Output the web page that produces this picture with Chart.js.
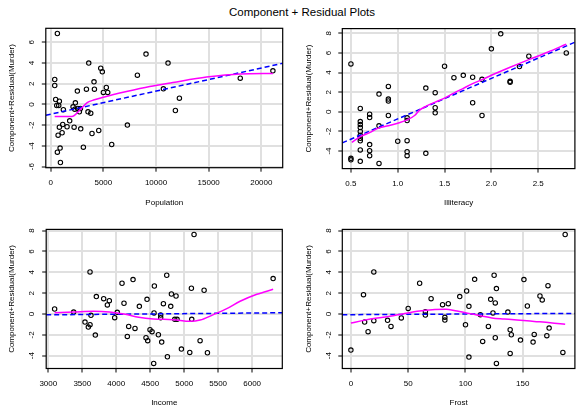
<!DOCTYPE html>
<html>
<head>
<meta charset="utf-8">
<script src="https://cdn.jsdelivr.net/npm/chart.js@4.4.0/dist/chart.umd.min.js"></script>
<style>
  html, body { margin: 0; padding: 0; background: #fff; overflow: hidden; }
  #fig { position: relative; width: 577px; height: 407px; overflow: hidden; font-family: "Liberation Sans", Arial, sans-serif; }
  #title { position: absolute; left: 0; top: 6px; width: 604px; text-align: center; font-size: 11.5px; line-height: 12px; color: #000; }
  .panel { position: absolute; }
</style>
</head>
<body>
<div id="fig">
  <div id="title">Component + Residual Plots</div>
  <div class="panel" style="left:0;top:22px"><canvas id="c1" width="288" height="190"></canvas></div>
  <div class="panel" style="left:288px;top:22px"><canvas id="c2" width="292" height="190"></canvas></div>
  <div class="panel" style="left:0;top:215px"><canvas id="c3" width="288" height="194"></canvas></div>
  <div class="panel" style="left:288px;top:215px"><canvas id="c4" width="292" height="194"></canvas></div>
</div>
<script>
// Population panel
const popX = [630, 380, 380, 470, 820, 570, 760, 1200, 820, 1140, 1550, 1800, 1080, 700, 890, 630, 920,
  2120, 2340, 2280, 2560, 2720, 2820, 2530, 2220, 2850, 3100, 3390, 3610, 3540, 3800, 3920, 4110, 4150,
  4560, 4750, 4900, 5000, 5280, 5410, 5790, 7280, 8230, 9050, 10700, 11140, 11840, 12220, 18000, 21100]
const popY = [6.85, 2.41, 1.83, 0.48, 0.32, -0.10, -0.10, -0.51, -2.19, -1.93, -2.15, -1.58, -2.73, -2.96, -4.21, -4.60, -5.60,
  -0.23, 0.16, -0.45, -0.39, -0.71, -0.39, 1.29, -2.19, -2.35, -4.12, 1.48, 3.99, -0.71, -0.84, -2.80, 2.19, 1.48,
  -2.51, 3.50, 3.15, 1.16, 1.64, 1.16, -3.86, -1.99, 2.83, 4.86, 1.51, 3.99, -0.58, 0.61, 2.54, 3.25]
const popFitX = [-468, 22031]
const popFitY = [-1.04, 3.97]
const popSmoothX = [376, 2000, 2800, 3500, 4150, 5000, 7200, 9400, 11600, 14800, 18000, 21100]
const popSmoothY = [-1.16, -1.16, -0.5, 0.2, 0.45, 0.7, 1.25, 1.74, 2.12, 2.64, 2.95, 3.0]
const popTicks = [0, 5000, 10000, 15000, 20000]
const popYTicks = [-6, -4, -2, 0, 2, 4, 6]

// Illiteracy panel
const illX = [0.5, 0.5, 0.5, 0.6, 0.6, 0.6, 0.6, 0.6, 0.6, 0.6, 0.6, 0.6, 0.6,
  0.7, 0.7, 0.7, 0.7, 0.7, 0.8, 0.8, 0.8, 0.9, 0.9, 0.9, 0.9, 1.0,
  1.1, 1.1, 1.1, 1.1, 1.1, 1.3, 1.3, 1.4, 1.4, 1.4, 1.5, 1.6, 1.7, 1.8, 1.8,
  1.9, 1.9, 2.0, 2.1, 2.2, 2.2, 2.3, 2.4, 2.8]
const illY = [4.88, -4.74, -4.90, 0.34, -1.0, -1.3, -1.6, -2.0, -2.4, -2.7, -2.95, -3.89, -5.05,
  -0.24, -0.58, -3.34, -3.96, -4.47, 1.81, -1.43, -5.26, 2.59, 1.30, 1.10, -0.38, -3.0,
  -0.61, -0.89, -2.94, -4.06, -4.47, 2.42, -4.23, 1.95, 0.41, -0.10, 4.64, 3.48, 3.72, 3.52, 0.92,
  3.31, -0.38, 6.42, 7.95, 3.11, 3.0, 4.61, 5.67, 6.0]
const illFitX = [0.408, 2.892]
const illFitY = [-3.17, 7.09]
const illSmoothX = [0.51, 0.6, 0.7, 0.8, 0.9, 1.0, 1.1, 1.18, 1.23, 1.3, 1.4, 1.5, 1.6, 1.7, 1.8, 1.9, 2.0, 2.2, 2.4, 2.6, 2.8]
const illSmoothY = [-3.11, -2.53, -2.12, -1.64, -1.43, -1.16, -0.82, -0.38, 0.14, 0.55, 0.99, 1.4, 1.91, 2.39, 2.87, 3.28, 3.72, 4.54, 5.32, 6.07, 6.89]
const illTicks = [0.5, 1.0, 1.5, 2.0, 2.5]
const illYTicks = [-4, -2, 0, 2, 4, 6, 8]

// Income panel
const incX = [3093, 3373, 3540, 3614, 3628, 3614, 3589, 3692, 3707, 3815, 3869, 3898, 3977, 4015, 4085,
  4114, 4183, 4163, 4247, 4276, 4340, 4453, 4438, 4463, 4497, 4527, 4561, 4556, 4551, 4620, 4654, 4654,
  4669, 4694, 4743, 4753, 4802, 4812, 4880, 4861, 4895, 4959, 5082, 5106, 5111, 5145, 5234, 5293, 5342, 6309]
const incY = [0.48, 0.19, -0.77, 4.04, -0.13, -1.03, -1.25, -2.02, 1.67, 1.47, 0.87, 1.28, -0.35, 0.16, 2.95,
  1.03, -1.19, -2.15, 3.30, -1.38, 0.74, 1.41, -2.28, -2.56, -1.51, -1.70, 2.69, 0.10, -4.74, -1.99, -0.10, -0.35,
  -2.69, 0.99, 3.72, -4.10, 0.74, 1.92, 1.73, -0.51, -0.51, -3.37, -3.69, 2.47, -0.51, 7.63, -2.56, 2.28, -3.72, 3.40]
const incFitX = [2969, 6444]
const incFitY = [-0.08, 0.12]
const incSmoothX = [3093, 3373, 3662, 3900, 4134, 4330, 4546, 4840, 5087, 5234, 5430, 5627, 5823, 6069, 6309]
const incSmoothY = [0.13, 0.19, 0.26, 0.19, -0.03, -0.32, -0.48, -0.54, -0.7, -0.58, -0.06, 0.51, 1.22, 1.89, 2.37]
const incTicks = [3000, 3500, 4000, 4500, 5000, 5500, 6000]
const incYTicks = [-4, -2, 0, 2, 4, 6, 8]

// Frost panel
const frostX = [0, 11, 12, 15, 20, 20, 32, 35, 44, 50, 60, 65, 65, 70, 80, 82, 82, 85, 95, 100,
  101, 103, 103, 108, 113, 115, 120, 122, 124, 125, 126, 126, 127, 127, 137, 139, 140, 139, 148, 151,
  154, 159, 160, 165, 167, 171, 172, 173, 185, 187]
const frostY = [-3.46, 1.86, -0.77, -1.70, 4.04, -0.64, -0.61, -1.19, -0.38, 0.54, 2.95, 0.22, -0.10, 1.47, 0.90, -0.32, -0.58, 0.99, 1.67, -1.03,
  2.21, 0.74, -4.13, 3.33, -0.06, -2.63, -1.19, 1.41, 0.10, 3.72, 1.06, -2.28, 2.44, -4.74, 0.19, -1.51, -1.99, -3.78, -2.50, 3.30,
  0.77, -2.69, -1.96, 1.73, 1.35, -2.08, 2.72, -1.35, -3.69, 7.63]
const frostFitX = [-7.5, 195.5]
const frostFitY = [-0.07, 0.06]
const frostSmoothX = [0, 11, 23, 34, 46, 60, 71, 83, 91, 103, 114, 123, 134, 145, 160, 174, 187]
const frostSmoothY = [-0.87, -0.61, -0.38, -0.22, 0.03, 0.29, 0.42, 0.45, 0.32, 0.06, -0.19, -0.38, -0.48, -0.58, -0.71, -0.83, -0.99]
const frostTicks = [0, 50, 100, 150]
const frostYTicks = [-4, -2, 0, 2, 4, 6, 8]

const FONT = '"Liberation Sans", Arial, sans-serif'
const pts = (xs, ys) => xs.map((x, i) => ({ x: x, y: ys[i] }))

// box around the plot + y tick labels turned like R does
const framePlugin = {
  id: "frame",
  afterDraw(chart) {
    const { ctx, chartArea: a, scales } = chart
    ctx.save()
    ctx.strokeStyle = "#000"
    ctx.lineWidth = 1.2
    ctx.strokeRect(a.left, a.top, a.right - a.left, a.bottom - a.top)
    ctx.font = "8px " + FONT
    ctx.fillStyle = "#000"
    ctx.textAlign = "center"
    ctx.textBaseline = "middle"
    scales.y.ticks.forEach((t) => {
      ctx.save()
      ctx.translate(a.left - 14, scales.y.getPixelForValue(t.value))
      ctx.rotate(-Math.PI / 2)
      ctx.fillText(String(t.value), 0, 0)
      ctx.restore()
    })
    ctx.restore()
  },
}

function makePanel(id, p) {
  const ctx = document.getElementById(id).getContext("2d")
  return new Chart(ctx, {
    type: "scatter",
    data: {
      datasets: [
        {
          data: pts(p.smoothX, p.smoothY),
          showLine: true,
          borderColor: "#ff00ff",
          borderWidth: 1.5,
          pointRadius: 0,
          tension: 0.4,
          cubicInterpolationMode: "monotone",
        },
        {
          data: pts(p.fitX, p.fitY),
          showLine: true,
          borderColor: "#0000ff",
          borderWidth: 1.5,
          borderDash: [5, 3],
          pointRadius: 0,
        },
        {
          data: pts(p.x, p.y),
          pointRadius: 2.2,
          pointBorderWidth: 1.1,
          pointBorderColor: "#000",
          pointBackgroundColor: "rgba(0,0,0,0)",
        },
      ],
    },
    options: {
      responsive: false,
      animation: false,
      devicePixelRatio: 1,
      layout: { padding: { left: 0, right: p.padR, top: p.padT, bottom: 0 } },
      plugins: { legend: { display: false }, tooltip: { enabled: false } },
      scales: {
        x: {
          type: "linear",
          position: "bottom",
          min: p.xMin,
          max: p.xMax,
          afterBuildTicks: (s) => { s.ticks = p.xTicks.map((v) => ({ value: v })) },
          afterFit: (s) => { s.height = p.xH },
          grid: { color: "#e0e0e0", lineWidth: 2, drawTicks: true, tickLength: 4, tickColor: "#000", tickWidth: 1 },
          border: { display: false },
          ticks: {
            font: { size: 8, family: FONT },
            color: "#000",
            padding: p.xPad,
            maxRotation: 0,
            autoSkip: false,
            callback: p.fmt,
          },
          title: { display: true, text: p.xTitle, color: "#000", font: { size: 8, family: FONT }, padding: { top: 0, bottom: p.xTitlePad } },
        },
        y: {
          type: "linear",
          min: p.yMin,
          max: p.yMax,
          afterBuildTicks: (s) => { s.ticks = p.yTicks.map((v) => ({ value: v })) },
          afterFit: (s) => { s.width = p.yW },
          grid: { color: "#e0e0e0", lineWidth: 2, drawTicks: true, tickLength: 4, tickColor: "#000", tickWidth: 1 },
          border: { display: false },
          ticks: { display: false },
          title: { display: true, text: "Component+Residual(Murder)", color: "#000", font: { size: 8, family: FONT }, padding: { top: p.yTitlePad, bottom: 0 } },
        },
      },
    },
    plugins: [framePlugin],
  })
}

makePanel("c1", {
  x: popX, y: popY, fitX: popFitX, fitY: popFitY, smoothX: popSmoothX, smoothY: popSmoothY,
  xTicks: popTicks, yTicks: popYTicks, xMin: -468, xMax: 22031, yMin: -6.1, yMax: 7.35,
  xTitle: "Population", fmt: (v) => String(v),
  yW: 45.8, padR: 5.3, padT: 6.3, xH: 44.3, xPad: 6, xTitlePad: 4.5, yTitlePad: 6.9,
})
makePanel("c2", {
  x: illX, y: illY, fitX: illFitX, fitY: illFitY, smoothX: illSmoothX, smoothY: illSmoothY,
  xTicks: illTicks, yTicks: illYTicks, xMin: 0.408, xMax: 2.892, yMin: -5.79, yMax: 8.48,
  xTitle: "Illiteracy", fmt: (v) => v.toFixed(1),
  yW: 54.3, padR: 0.7, padT: 6.6, xH: 43.4, xPad: 6.5, xTitlePad: 4.5, yTitlePad: 16.2,
})
makePanel("c3", {
  x: incX, y: incY, fitX: incFitX, fitY: incFitY, smoothX: incSmoothX, smoothY: incSmoothY,
  xTicks: incTicks, yTicks: incYTicks, xMin: 2969, xMax: 6444, yMin: -5.23, yMax: 8.12,
  xTitle: "Income", fmt: (v) => String(v),
  yW: 46.2, padR: 5.7, padT: 14.4, xH: 40.5, xPad: 6, xTitlePad: 1, yTitlePad: 6.9,
})
makePanel("c4", {
  x: frostX, y: frostY, fitX: frostFitX, fitY: frostFitY, smoothX: frostSmoothX, smoothY: frostSmoothY,
  xTicks: frostTicks, yTicks: frostYTicks, xMin: -7.5, xMax: 195.5, yMin: -5.23, yMax: 8.12,
  xTitle: "Frost", fmt: (v) => String(v),
  yW: 54.3, padR: 1, padT: 14.4, xH: 40.5, xPad: 6, xTitlePad: 1, yTitlePad: 16,
})
</script>
</body>
</html>
